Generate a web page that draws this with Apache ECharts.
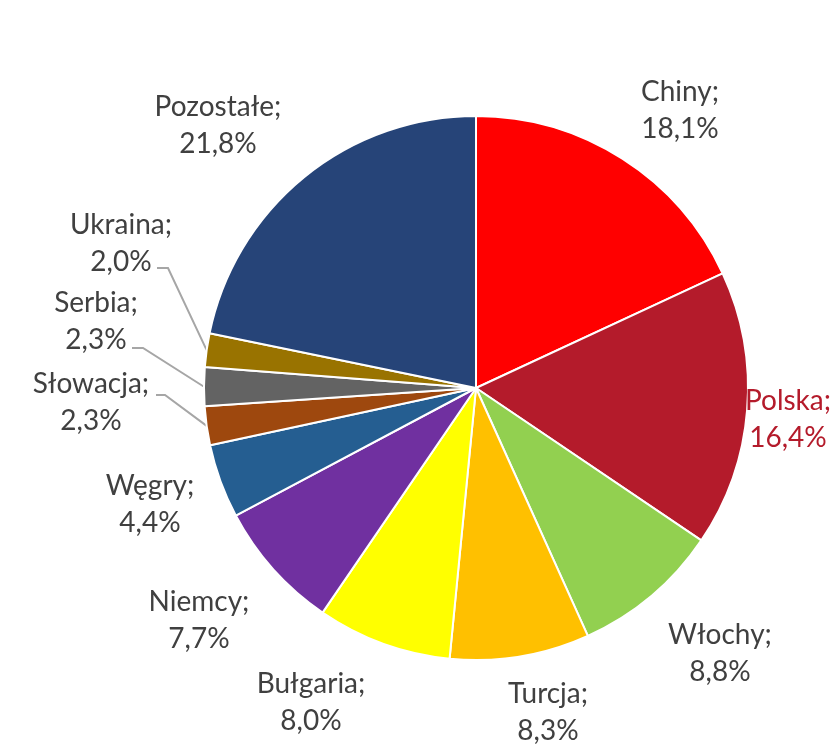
<!DOCTYPE html>
<html><head><meta charset="utf-8">
<script src="https://cdn.jsdelivr.net/npm/echarts@6/dist/echarts.min.js"></script>
<style>html,body{margin:0;padding:0;background:#fff}#c{width:835px;height:749px}</style>
</head><body><div id="c"></div>
<script>
const categories = ['Chiny','Polska','Włochy','Turcja','Bułgaria','Niemcy','Węgry','Słowacja','Serbia','Ukraina','Pozostałe'];
const values = [18.1,16.4,8.8,8.3,8.0,7.7,4.4,2.3,2.3,2.0,21.8];
const colors = ['#FF0000','#B41B2B','#92D050','#FFC000','#FFFF00','#7030A0','#255E91','#9E480E','#636363','#997300','#264478'];
const withLine = ['Słowacja','Serbia','Ukraina'];

// label placement (centre of the two-line label block)
const labelPos = {
  'Chiny':[680,110],'Polska':[788,419],'Włochy':[720,653],'Turcja':[548,712],
  'Bułgaria':[311,702],'Niemcy':[199,620],'Węgry':[150,504],'Słowacja':[91,402],
  'Serbia':[96,321],'Ukraina':[121,243],'Pozostałe':[218,125]
};
// leader line elbows [elbow, end near label]
const leader = {
  'Ukraina':[[168,268],[157,268]],
  'Serbia':[[143,348],[132,348]],
  'Słowacja':[[165,395],[156,395]]
};

const chart = echarts.init(document.getElementById('c'));
chart.setOption({
  animation:false,
  series:[{
    type:'pie',
    center:[476,388],
    radius:272,
    startAngle:90,
    clockwise:true,
    avoidLabelOverlap:false,
    itemStyle:{borderColor:'#fff',borderWidth:2},
    label:{
      position:'outside',
      fontFamily:'Lato',
      fontSize:28,
      lineHeight:37,
      color:'#404040',
      align:'center',
      formatter:p=>p.name+';\n'+p.value.toFixed(1).replace('.',',')+'%'
    },
    labelLine:{show:false,length:20,length2:10,lineStyle:{color:'#A6A6A6',width:2}},
    labelLayout:function(p){
      const n = categories[p.dataIndex];
      const pos = labelPos[n];
      const out = {x:pos[0],y:pos[1],align:'center',verticalAlign:'middle',hideOverlap:false,moveOverlap:false};
      if (leader[n] && p.labelLinePoints) {
        out.labelLinePoints = [p.labelLinePoints[0], leader[n][0], leader[n][1]];
      }
      return out;
    },
    data:categories.map((n,i)=>({
      name:n,value:values[i],
      itemStyle:{color:colors[i]},
      label: n==='Polska'?{color:'#B41B2B'}:{},
      labelLine:{show:withLine.includes(n)}
    }))
  }]
});
</script></body></html>
